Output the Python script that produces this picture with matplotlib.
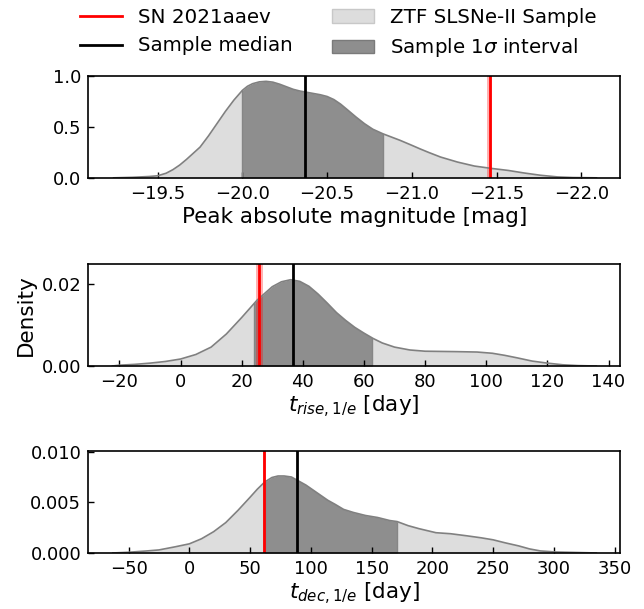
import numpy as np
import matplotlib
matplotlib.use("Agg")
import matplotlib.pyplot as plt
from matplotlib.lines import Line2D
from matplotlib.patches import Patch

# Peak absolute magnitude: sample density curve
mag_x = [-19.24, -19.35, -19.45, -19.50, -19.55, -19.59, -19.63, -19.67, -19.71,
         -19.75, -19.80, -19.85, -19.90, -19.95, -20.00, -20.03, -20.06, -20.10,
         -20.14, -20.18, -20.22, -20.26, -20.30, -20.34, -20.40, -20.46, -20.50,
         -20.54, -20.58, -20.62, -20.67, -20.72, -20.77, -20.83, -20.93, -21.00,
         -21.05, -21.10, -21.17, -21.27, -21.37, -21.47, -21.57, -21.66, -21.76,
         -21.86, -21.95, -22.09]
mag_y = [0.0, 0.005, 0.013, 0.02, 0.045, 0.08, 0.125, 0.18, 0.24,
         0.30, 0.41, 0.53, 0.65, 0.76, 0.855, 0.895, 0.92, 0.938,
         0.943, 0.935, 0.915, 0.89, 0.865, 0.848, 0.83, 0.812, 0.795,
         0.765, 0.72, 0.665, 0.595, 0.53, 0.475, 0.43, 0.367, 0.318,
         0.282, 0.248, 0.203, 0.154, 0.115, 0.092, 0.072, 0.048, 0.025,
         0.009, 0.003, 0.0]
mag_median = -20.37
mag_interval = (-20.00, -20.83)
mag_sn = -21.46
mag_sn_err = 0.015

# Rise time density curve
rise_x = [-22.3, -20, -15, -10, -5, 0, 5, 10, 15, 20, 25, 30, 33, 36, 39, 42, 45,
          48, 51, 54, 57, 60, 63, 66, 70, 75, 80, 90, 97, 102, 106, 110, 115,
          120, 125, 130, 136]
rise_y = [0.0, 0.0002, 0.0004, 0.0007, 0.0011, 0.0017, 0.0028, 0.0046, 0.0078,
          0.0118, 0.0160, 0.0193, 0.0205, 0.0210, 0.0206, 0.0194, 0.0175,
          0.0153, 0.0130, 0.0111, 0.0094, 0.0080, 0.0067, 0.0056, 0.0046,
          0.0039, 0.0036, 0.0035, 0.0034, 0.0031, 0.0026, 0.0020, 0.0012,
          0.0007, 0.0003, 0.0001, 0.0]
rise_median = 36.9
rise_interval = (24.1, 62.7)
rise_sn = 25.8
rise_sn_err = 1.1

# Decline time density curve
dec_x = [-63, -50, -35, -25, -12, 0, 10, 20, 30, 40, 50, 56, 62, 68, 73, 78, 84,
         90, 96, 102, 108, 114, 120, 127, 135, 145, 155, 165, 171, 180, 189,
         203, 215, 228, 240, 250, 260, 271, 280, 289, 301, 335]
dec_y = [0.0, 0.00007, 0.0002, 0.0003, 0.0006, 0.0009, 0.0014, 0.0021, 0.0030,
         0.0042, 0.0055, 0.0063, 0.0070, 0.00745, 0.0076, 0.0076, 0.0075,
         0.0071, 0.0067, 0.0062, 0.0057, 0.0052, 0.0048, 0.0043, 0.0040,
         0.0037, 0.0035, 0.0032, 0.0031, 0.0027, 0.0024, 0.0020, 0.0019,
         0.0017, 0.0015, 0.0013, 0.0010, 0.0007, 0.0004, 0.0002, 0.0001, 0.0]
dec_median = 89.0
dec_interval = (62.0, 171.0)
dec_sn = 61.5
dec_sn_err = 1.2

LIGHT = "#dddddd"
DARK = "#8e8e8e"
EDGE = "#808080"

plt.rcParams["font.family"] = "DejaVu Sans"

fig = plt.figure(figsize=(6.44, 6.09), dpi=100)
left, width, height = 0.137, 0.826, 0.168
bottoms = [0.708, 0.399, 0.092]
axes = [fig.add_axes([left, b, width, height]) for b in bottoms]


def draw_panel(ax, xs, ys, median, interval, sn, sn_err):
    xs = np.asarray(xs, float)
    ys = np.asarray(ys, float)
    order = np.argsort(xs)
    xs, ys = xs[order], ys[order]
    ax.fill_between(xs, 0, ys, color=LIGHT, lw=0)
    lo, hi = sorted(interval)
    inner = xs[(xs > lo) & (xs < hi)]
    seg_x = np.concatenate([[lo], inner, [hi]])
    seg_y = np.interp(seg_x, xs, ys)
    ax.fill_between(seg_x, 0, seg_y, color=DARK, lw=0)
    ax.vlines([lo, hi], 0, [seg_y[0], seg_y[-1]], color="#868686", lw=1.0)
    ax.plot(xs, ys, color=EDGE, lw=1.2)
    ax.axvspan(sn - sn_err, sn + sn_err, color="red", alpha=0.3, lw=0)
    ax.axvline(sn, color="red", lw=2)
    ax.axvline(median, color="black", lw=2)
    ax.tick_params(direction="in", labelsize=13, length=4, width=1, pad=5,
                   top=False, right=False)
    for s in ax.spines.values():
        s.set_linewidth(1.2)


draw_panel(axes[0], mag_x, mag_y, mag_median, mag_interval, mag_sn, mag_sn_err)
axes[0].set_xlim(-19.09, -22.23)
axes[0].set_ylim(0, 1.0)
axes[0].set_xticks([-19.5, -20.0, -20.5, -21.0, -21.5, -22.0])
axes[0].set_yticks([0.0, 0.5, 1.0])
axes[0].set_xlabel("Peak absolute magnitude [mag]", fontsize=15.5, labelpad=3)

draw_panel(axes[1], rise_x, rise_y, rise_median, rise_interval, rise_sn, rise_sn_err)
axes[1].set_xlim(-30.2, 143.8)
axes[1].set_ylim(0, 0.0249)
axes[1].set_xticks(np.arange(-20, 141, 20))
axes[1].set_yticks([0.0, 0.02])
axes[1].set_yticklabels(["0.00", "0.02"])
axes[1].set_xlabel(r"$t_{rise,1/e}$ [day]", fontsize=15.5, labelpad=2)
axes[1].set_ylabel("Density", fontsize=15.5)

draw_panel(axes[2], dec_x, dec_y, dec_median, dec_interval, dec_sn, dec_sn_err)
axes[2].set_xlim(-83.2, 354.6)
axes[2].set_ylim(0, 0.0101)
axes[2].set_xticks(np.arange(-50, 351, 50))
axes[2].set_yticks([0.0, 0.005, 0.010])
axes[2].set_yticklabels(["0.000", "0.005", "0.010"])
axes[2].set_xlabel(r"$t_{dec,1/e}$ [day]", fontsize=15.5, labelpad=2)

handles = [
    Line2D([], [], color="red", lw=2),
    Line2D([], [], color="black", lw=2),
    Patch(facecolor=LIGHT, edgecolor="#c8c8c8", lw=1),
    Patch(facecolor=DARK, edgecolor="#7a7a7a", lw=1),
]
labels = ["SN 2021aaev", "Sample median", "ZTF SLSNe-II Sample",
          r"Sample 1$\sigma$ interval"]
fig.legend(handles, labels, ncol=2, frameon=False, fontsize=14.3,
           loc="upper center", bbox_to_anchor=(0.525, 1.017),
           handlelength=2.1, handletextpad=0.8, columnspacing=2.0,
           labelspacing=0.5)

fig.savefig("out.png", dpi=100)
